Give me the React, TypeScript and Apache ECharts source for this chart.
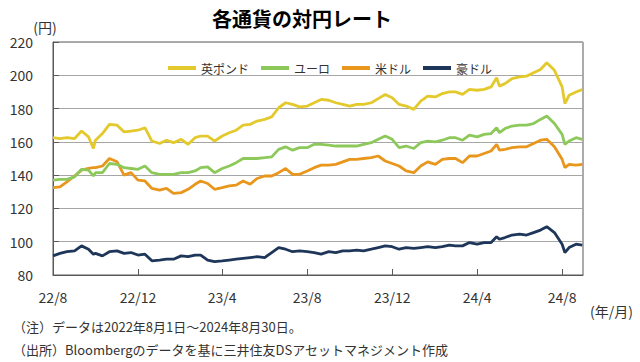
import React, { useEffect, useRef } from "react";
import * as echarts from "echarts";

const dates = [
  "2022-08-01","2022-08-11","2022-08-21","2022-09-01","2022-09-11","2022-09-21","2022-09-28","2022-10-01","2022-10-11","2022-10-21",
  "2022-11-01","2022-11-11","2022-11-21","2022-12-01","2022-12-11","2022-12-21","2023-01-01","2023-01-11","2023-01-21","2023-02-01",
  "2023-02-11","2023-02-21","2023-03-01","2023-03-11","2023-03-21","2023-04-01","2023-04-11","2023-04-21","2023-05-01","2023-05-11",
  "2023-05-21","2023-06-01","2023-06-11","2023-06-21","2023-07-01","2023-07-11","2023-07-21","2023-08-01","2023-08-11","2023-08-21",
  "2023-09-01","2023-09-11","2023-09-21","2023-10-01","2023-10-11","2023-10-21","2023-11-01","2023-11-11","2023-11-21","2023-12-01",
  "2023-12-11","2023-12-21","2024-01-01","2024-01-11","2024-01-21","2024-02-01","2024-02-11","2024-02-21","2024-03-01","2024-03-11",
  "2024-03-21","2024-04-01","2024-04-11","2024-04-21","2024-04-29","2024-05-03","2024-05-11","2024-05-21","2024-06-01","2024-06-11",
  "2024-06-21","2024-07-01","2024-07-10","2024-07-21","2024-08-01","2024-08-05","2024-08-11","2024-08-21","2024-08-30",
];

const gbp = [
  162.5,162,162.5,162,166.5,163,156,161,165,170.5,
  170,166,166.5,167,168.5,160.5,159,161,159.5,161.5,
  158.5,162.5,163.5,163.5,160.5,163.5,165.5,167,170,170.5,
  172.5,173.5,175,180.5,183.5,182.5,181,181.5,183.5,185.5,
  185,183.5,182.5,181.5,182.5,182.5,183.5,186,188.5,186.5,
  182.5,181.5,179.5,184.5,187.5,187,189,190,190,188.5,
  191.5,191,191.5,193,198.5,193.5,195,198,199,199.5,
  201.5,203.5,207.5,203,193,183,188,190,191.5,
];

const eur = [
  137,137.5,137.5,139,143.5,143,139.5,141.5,141.5,147,
  146.5,144.5,144,143.5,145.5,141.5,140.5,140.5,140.5,141.5,
  141.5,142.5,144.5,145,141.5,144,145.5,147.5,150,150,
  150,150.5,151,155.5,157,155,156.5,156.5,158.5,158.5,
  158,157.5,157.5,157.5,157.5,158.5,159.5,161.5,163.5,161.5,
  156.5,157.5,156,159.5,160.5,160,161,162.5,162.5,161,
  164,163,164.5,165,168.5,165.5,168,169.5,170,170,
  171,173.5,175.5,171,164.5,158.5,160.5,162.5,161.5,
];

const usd = [
  132.5,133,136,139.5,143,144,144.5,144.5,145.5,150,
  148,140,141.5,137,136.5,132,131,132,129,129.5,
  131.5,134.5,136.5,135,131.5,132.5,133.5,134,136.5,134.5,
  138,139.5,139.5,141.5,144,140.5,140.5,142.5,144.5,146,
  146,146.5,148,149.5,149.5,150,150.5,151.5,148.5,147,
  145.5,142.5,141.5,145.5,148,146.5,149.5,150,150,147.5,
  151.5,151.5,153,154.5,158.5,155,155.5,156.5,157,157,
  159,161,161.5,157,149.5,144.5,146.5,146,146.5,
];

const aud = [
  91.5,93,94,94.5,97.5,95.5,92.5,93,91.5,94,
  94.5,93,93.5,92,92.5,88.5,89,89.5,89.5,91.5,
  91,92,92,89,88,88.5,89,89.5,90,90.5,
  91,90.5,93.5,96.5,95.5,94,94.5,94,93.5,92.5,
  94,93.5,94.5,94.5,95,94.5,95.5,96.5,97.5,97,
  95.5,96.5,96,96.5,97,96.5,97,98,97.5,97.5,
  99.5,98.5,99.5,99.5,103,101.5,102.5,104,104.5,104,
  105.5,107,109,105.5,98.5,93.5,96.5,98.5,98,
];

const seriesNames = ["英ポンド", "ユーロ", "米ドル", "豪ドル"];
const seriesColors = ["#E4C92C", "#8DC95A", "#E8961C", "#1D3659"];
const tickDates = ["2022-08-01","2022-12-01","2023-04-01","2023-08-01","2023-12-01","2024-04-01","2024-08-01"];
const tickLabels = ["22/8","22/12","23/4","23/8","23/12","24/4","24/8"];

const FONT = "'Noto Sans CJK JP', 'Noto Sans', sans-serif";

function ts(s: string): number {
  const [y, m, d] = s.split("-").map(Number);
  return Date.UTC(y, m - 1, d);
}

export default function App() {
  const ref = useRef<HTMLDivElement>(null);
  useEffect(() => {
    if (!ref.current) return;
    const chart = echarts.init(ref.current, undefined, { renderer: "svg" });
    const tickTs = tickDates.map(ts);
    const allValues = [gbp, eur, usd, aud];
    chart.setOption({
      animation: false,
      textStyle: { fontFamily: FONT },
      grid: {
        left: 53,
        right: 57,
        top: 42,
        bottom: 87,
        show: true,
        borderColor: "#595959",
        borderWidth: 1,
        containLabel: false,
      },
      legend: {
        top: 57,
        left: 163,
        icon: "rect",
        itemWidth: 28,
        itemHeight: 4,
        itemGap: 12,
        textStyle: { fontSize: 12, color: "#333", fontFamily: FONT },
        data: seriesNames,
      },
      xAxis: {
        type: "value",
        min: ts("2022-08-01"),
        max: ts("2024-08-31"),
        axisLine: { show: true, onZero: false, lineStyle: { color: "#595959", width: 1 } },
        axisTick: {
          show: true,
          inside: true,
          length: 6,
          customValues: tickTs,
          lineStyle: { color: "#595959" },
        },
        axisLabel: {
          show: true,
          customValues: tickTs,
          margin: 15,
          fontSize: 14,
          color: "#333",
          fontFamily: FONT,
          showMinLabel: true,
          showMaxLabel: true,
          formatter: (v: number) => {
            const i = tickTs.indexOf(v);
            return i >= 0 ? tickLabels[i] : "";
          },
        },
        splitLine: { show: false },
      },
      yAxis: {
        type: "value",
        min: 80,
        max: 220,
        interval: 20,
        axisLine: { show: true, lineStyle: { color: "#595959", width: 1 } },
        axisTick: { show: true, inside: true, length: 6, lineStyle: { color: "#595959" } },
        axisLabel: { margin: 20, fontSize: 14, color: "#333", fontFamily: FONT },
        splitLine: { show: true, lineStyle: { color: "#A6A6A6", width: 1 } },
      },
      series: seriesNames.map((name, k) => ({
        name,
        type: "line",
        showSymbol: false,
        symbol: "none",
        color: seriesColors[k],
        lineStyle: { width: 2.8, color: seriesColors[k] },
        data: dates.map((d, i) => [ts(d), allValues[k][i]]),
        z: 10 - k,
      })),
      graphic: [
        {
          type: "text",
          x: 302,
          y: 18,
          style: { text: "各通貨の対円レート", fontSize: 20, fontWeight: "bold", fill: "#000", fontFamily: FONT, align: "center", verticalAlign: "middle" },
        },
        {
          type: "text",
          x: 45,
          y: 27,
          style: { text: "(円)", fontSize: 14, fill: "#333", fontFamily: FONT, align: "center", verticalAlign: "middle" },
        },
        {
          type: "text",
          x: 590,
          y: 311,
          style: { text: "(年/月)", fontSize: 14, fill: "#333", fontFamily: FONT, align: "left", verticalAlign: "middle" },
        },
        {
          type: "text",
          x: 13,
          y: 326,
          style: { text: "（注）データは2022年8月1日～2024年8月30日。", fontSize: 13, fill: "#333", fontFamily: FONT, verticalAlign: "middle" },
        },
        {
          type: "text",
          x: 13,
          y: 349,
          style: { text: "（出所）Bloombergのデータを基に三井住友DSアセットマネジメント作成", fontSize: 13, fill: "#333", fontFamily: FONT, verticalAlign: "middle" },
        },
      ],
    });
    return () => chart.dispose();
  }, []);
  return <div ref={ref} style={{ width: 640, height: 362, position: "absolute", left: 0, top: 0, background: "#fff" }} />;
}
